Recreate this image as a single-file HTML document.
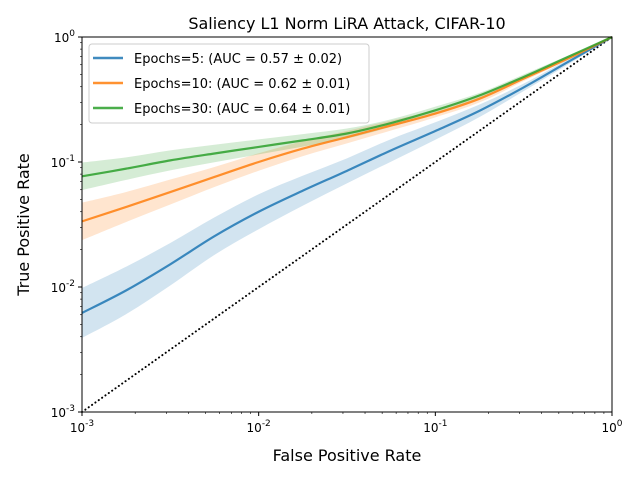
<!DOCTYPE html>
<html><head><meta charset="utf-8"><style>
body{margin:0;background:#fff}
svg{display:block;font-family:"DejaVu Sans","Liberation Sans",sans-serif}
</style></head><body>
<svg id="chart" width="640" height="480">
<text x="347" y="29" text-anchor="middle" font-size="16">Saliency L1 Norm LiRA Attack, CIFAR-10</text>
<g id="bands"></g><g id="lines"></g>
<rect x="82" y="37" width="530" height="375" fill="none" stroke="#000" stroke-width="1"/>
<g id="ticks"></g>
<text x="347" y="461" text-anchor="middle" font-size="16">False Positive Rate</text>
<text transform="translate(29,224.5) rotate(-90)" text-anchor="middle" font-size="16">True Positive Rate</text>
<g>
<rect x="89" y="44" width="280" height="79" rx="3" fill="#fff" fill-opacity="0.8" stroke="#ccc"/>
<line x1="93" y1="58" x2="123" y2="58" stroke="#1f77b4" stroke-width="2.5" opacity="0.85"/>
<text x="134" y="63" font-size="13">Epochs=5: (AUC = 0.57 ± 0.02)</text>
<line x1="93" y1="83" x2="123" y2="83" stroke="#ff7f0e" stroke-width="2.5" opacity="0.85"/>
<text x="134" y="88" font-size="13">Epochs=10: (AUC = 0.62 ± 0.01)</text>
<line x1="93" y1="108" x2="123" y2="108" stroke="#2ca02c" stroke-width="2.5" opacity="0.85"/>
<text x="134" y="113" font-size="13">Epochs=30: (AUC = 0.64 ± 0.01)</text>
</g>
</svg>
<script>
const fpr=[0.001,0.00178,0.00316,0.00562,0.01,0.0178,0.0316,0.0562,0.1,0.178,0.316,0.562,1];
const tpr5=[0.0062,0.0094,0.0152,0.0255,0.04,0.059,0.085,0.124,0.177,0.257,0.395,0.63,1];
const tpr10=[0.0335,0.0437,0.0575,0.0759,0.1,0.128,0.158,0.196,0.244,0.321,0.464,0.671,1];
const tpr30=[0.0768,0.0885,0.103,0.117,0.132,0.149,0.169,0.205,0.259,0.341,0.479,0.692,1];
const spread5=[0.2,0.19,0.17,0.15,0.14,0.12,0.1,0.09,0.07,0.05,0.03,0.02,0];
const spread10=[0.15,0.12,0.1,0.08,0.07,0.06,0.05,0.04,0.03,0.03,0.02,0.01,0];
const spread30=[0.11,0.09,0.08,0.07,0.06,0.05,0.04,0.03,0.03,0.02,0.02,0.01,0];
const tickVals=[0.001,0.01,0.1,1];
const tickExp=["-3","-2","-1","0"];
const NS="http://www.w3.org/2000/svg";
function sx(v){return 82+(Math.log10(v)+3)/3*530;}
function sy(v){return 412-(Math.log10(v)+3)/3*375;}
function mk(t,a,p){const e=document.createElementNS(NS,t);for(const k in a)e.setAttribute(k,a[k]);p.appendChild(e);return e;}
function smooth(pts,start){
 let d=start?'M'+pts[0][0]+','+pts[0][1]:'L'+pts[0][0]+','+pts[0][1];
 for(let i=0;i<pts.length-1;i++){
  const p0=pts[Math.max(0,i-1)],p1=pts[i],p2=pts[i+1],p3=pts[Math.min(pts.length-1,i+2)];
  const c1=[p1[0]+(p2[0]-p0[0])/6,p1[1]+(p2[1]-p0[1])/6],c2=[p2[0]-(p3[0]-p1[0])/6,p2[1]-(p3[1]-p1[1])/6];
  d+='C'+c1.join(',')+' '+c2.join(',')+' '+p2.join(',');
 }
 return d;
}
const bands=document.getElementById('bands'),lines=document.getElementById('lines'),ticks=document.getElementById('ticks');
const series=[[tpr5,spread5,'#1f77b4','epochs-5'],[tpr10,spread10,'#ff7f0e','epochs-10'],[tpr30,spread30,'#2ca02c','epochs-30']];
let dl=mk('line',{x1:sx(0.001),y1:sy(0.001),x2:sx(1),y2:sy(1),stroke:'#000','stroke-width':2,'stroke-dasharray':'0.1 4','stroke-linecap':'round'},lines);


series.forEach(s=>{
 const [y,sp,c,n]=s;
 const up=fpr.map((x,i)=>[sx(x),sy(Math.min(1,y[i]*Math.pow(10,sp[i])))]);
 const lo=fpr.map((x,i)=>[sx(x),sy(y[i]/Math.pow(10,sp[i]))]).reverse();
 let b=mk('path',{d:smooth(up,true)+smooth(lo,false)+'Z',fill:c,'fill-opacity':0.2},bands);
 
 
 let l=mk('path',{d:smooth(fpr.map((x,i)=>[sx(x),sy(y[i])]),true),fill:'none',stroke:c,'stroke-width':2.2,opacity:0.85},lines);
 
 
});
tickVals.forEach((v,i)=>{
 const x=sx(v),y=sy(v);
 mk('line',{x1:x,y1:412,x2:x,y2:416,stroke:'#000'},ticks);
 mk('line',{x1:78,y1:y,x2:82,y2:y,stroke:'#000'},ticks);
 let t=mk('text',{x:x,y:432,'text-anchor':'middle','font-size':12},ticks);
 t.innerHTML='10<tspan dy="-6" font-size="9">'+tickExp[i]+'</tspan>';
 
 
 let u=mk('text',{x:75,y:y+5,'text-anchor':'end','font-size':12},ticks);
 u.innerHTML='10<tspan dy="-6" font-size="9">'+tickExp[i]+'</tspan>';
 
 
 for(let k=2;k<10&&i<3;k++){
  const xm=sx(v*k),ym=sy(v*k);
  mk('line',{x1:xm,y1:412,x2:xm,y2:414,stroke:'#000','stroke-width':0.6},ticks);
  mk('line',{x1:80,y1:ym,x2:82,y2:ym,stroke:'#000','stroke-width':0.6},ticks);
 }
});
</script>
</body></html>
